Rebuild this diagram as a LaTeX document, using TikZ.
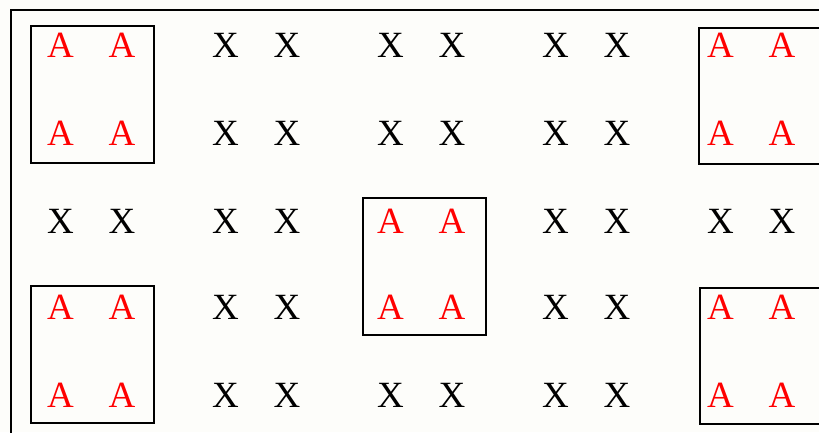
\documentclass[tikz,border=0pt]{standalone}
\usepackage{fontspec}
\setmainfont{Liberation Serif}
\begin{document}
\begin{tikzpicture}[x=1pt,y=-1pt,
  lett/.style={anchor=base,inner sep=0pt,font=\fontsize{37}{40}\selectfont},
  aa/.style={lett,text=red},
  xx/.style={lett,text=black},
  grp/.style={draw=black,line width=2.6pt},
  outer/.style={draw=black,line width=2.2pt}]
\useasboundingbox (0,0) rectangle (819,432);
\fill[fill={rgb,255:red,253;green,253;blue,250}] (0,0) rectangle (819,432);
\clip (0,0) rectangle (819,432);
\draw[outer] (11,440) -- (11,10) -- (830,10);
% letters
\foreach \g/\gx in {1/60.5,2/225.5,3/390.5,4/555.5,5/720.5}{
  \foreach \r/\ry in {1/57,2/145,3/233,4/319,5/407}{
    \pgfmathtruncatemacro{\isA}{
      ((\g==1 || \g==5) && (\r==1 || \r==2 || \r==4 || \r==5)) || (\g==3 && (\r==3 || \r==4)) ? 1 : 0}
    \ifnum\isA=1
      \node[aa] (n\g-\r-a) at (\gx,\ry) {A};
      \node[aa] (n\g-\r-b) at (\gx+61.5,\ry) {A};
    \else
      \node[xx] (n\g-\r-a) at (\gx,\ry) {X};
      \node[xx] (n\g-\r-b) at (\gx+61.5,\ry) {X};
    \fi
  }
}
% boxes
\draw[grp] (31,26) rectangle (154,163);
\draw[grp] (699,28) rectangle (823,164);
\draw[grp] (363,198) rectangle (486,335);
\draw[grp] (31,286) rectangle (154,423);
\draw[grp] (700,288) rectangle (823,424);
\end{tikzpicture}
\end{document}
